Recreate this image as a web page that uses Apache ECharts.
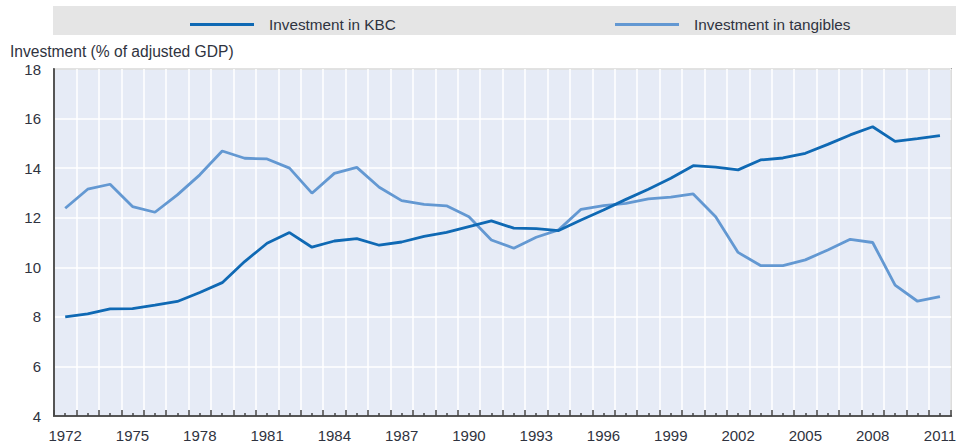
<!DOCTYPE html>
<html>
<head>
<meta charset="utf-8">
<script src="https://cdn.jsdelivr.net/npm/echarts@6/dist/echarts.min.js"></script>
<style>
html,body{margin:0;padding:0;background:#fff;}
#chart{width:959px;height:446px;}
</style>
</head>
<body>
<div id="chart"></div>
<script>
const years = ['1972','1973','1974','1975','1976','1977','1978','1979','1980','1981',
  '1982','1983','1984','1985','1986','1987','1988','1989','1990','1991',
  '1992','1993','1994','1995','1996','1997','1998','1999','2000','2001',
  '2002','2003','2004','2005','2006','2007','2008','2009','2010','2011'];

const kbc = [8.0, 8.12, 8.32, 8.33, 8.47, 8.62, 8.98, 9.38, 10.23, 10.97,
  11.4, 10.81, 11.06, 11.16, 10.89, 11.02, 11.25, 11.41, 11.64, 11.87,
  11.58, 11.56, 11.48, 11.91, 12.31, 12.74, 13.15, 13.59, 14.1, 14.04,
  13.93, 14.33, 14.41, 14.6, 14.96, 15.34, 15.67, 15.08, 15.19, 15.31];

const tangibles = [12.38, 13.15, 13.35, 12.45, 12.22, 12.92, 13.73, 14.69, 14.4, 14.37,
  14.0, 12.99, 13.79, 14.03, 13.23, 12.69, 12.54, 12.48, 12.04, 11.1,
  10.77, 11.21, 11.51, 12.34, 12.49, 12.58, 12.76, 12.83, 12.96, 12.04,
  10.6, 10.07, 10.07, 10.3, 10.7, 11.13, 11.0, 9.28, 8.63, 8.82];

const yTicks = {min: 4, max: 18, interval: 2};
const seriesNames = ['Investment in KBC', 'Investment in tangibles'];
const yTitle = 'Investment (% of adjusted GDP)';

const chart = echarts.init(document.getElementById('chart'), null, {renderer: 'svg'});
const font = 'Liberation Sans, Arial, sans-serif';
const textColor = '#2f3340';
const kbcColor = '#0f69b4';
const tanColor = '#6398d2';

chart.setOption({
  animation: false,
  backgroundColor: '#fff',
  textStyle: {fontFamily: font},
  graphic: [
    {type: 'rect', left: 53, top: 6, shape: {width: 903, height: 29}, style: {fill: '#e5e5e5'}, z: -10},
    {type: 'text', left: 10, top: 43, style: {text: yTitle, fill: textColor, font: '15.6px ' + font}}
  ],
  legend: [
    {data: [seriesNames[0]], left: 185, top: 12, itemWidth: 64, itemHeight: 3, icon: 'rect',
     textStyle: {color: textColor, fontSize: 15.3, fontFamily: font, padding: [0,0,0,10]}},
    {data: [seriesNames[1]], left: 610, top: 12, itemWidth: 64, itemHeight: 3, icon: 'rect',
     textStyle: {color: textColor, fontSize: 15.3, fontFamily: font, padding: [0,0,0,10]}}
  ],
  grid: {left: 54, right: 2, top: 69, bottom: 30, show: true, backgroundColor: '#e6ebf6',
    borderColor: '#666', borderWidth: 1.5, containLabel: false},
  xAxis: [
    {type: 'category', data: years, boundaryGap: true, position: 'bottom',
     axisLine: {lineStyle: {color: '#555', width: 2}},
     axisTick: {show: true, inside: true, length: 6, interval: 0, alignWithLabel: false, lineStyle: {color: '#444', width: 1.5}},
     axisLabel: {interval: 2, color: textColor, fontSize: 15, margin: 12, fontFamily: font},
     splitLine: {show: true, interval: 0, lineStyle: {color: '#fff', width: 1.5}}},
    {type: 'category', data: years, boundaryGap: true, position: 'top', offset: -347,
     axisLine: {show: false},
     axisTick: {show: true, inside: false, length: 3, interval: 0, alignWithLabel: true, lineStyle: {color: '#444', width: 1.5}},
     axisLabel: {show: false}, splitLine: {show: false}}
  ],
  yAxis: {type: 'value', min: yTicks.min, max: yTicks.max, interval: yTicks.interval,
    axisLine: {show: true, lineStyle: {color: '#555', width: 2}},
    axisTick: {show: false},
    axisLabel: {color: textColor, fontSize: 15, margin: 13, fontFamily: font},
    splitLine: {show: true, lineStyle: {color: '#fff', width: 1.5}}},
  series: [
    {name: seriesNames[0], type: 'line', data: kbc, xAxisIndex: 0, symbol: 'none',
     lineStyle: {color: kbcColor, width: 2.8}, itemStyle: {color: kbcColor}, z: 3},
    {name: seriesNames[1], type: 'line', data: tangibles, xAxisIndex: 0, symbol: 'none',
     lineStyle: {color: tanColor, width: 2.8}, itemStyle: {color: tanColor}, z: 2}
  ]
});
</script>
</body>
</html>
